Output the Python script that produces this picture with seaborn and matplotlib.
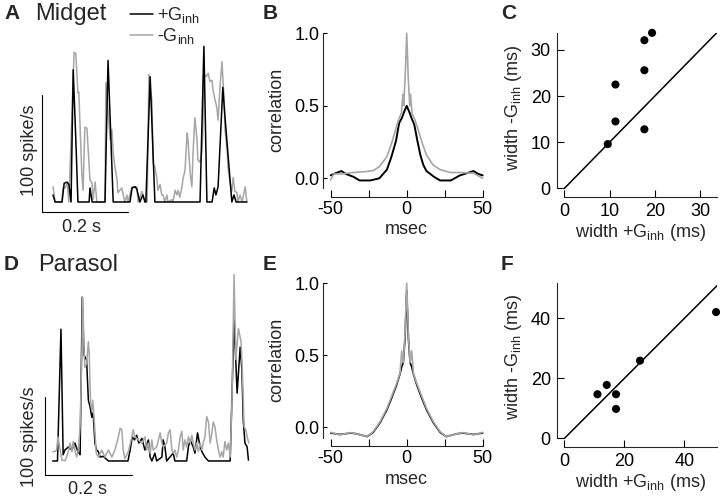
import matplotlib
matplotlib.use('Agg')
import matplotlib.pyplot as plt
import seaborn as sns
from matplotlib.lines import Line2D

sns.set_style('ticks')
plt.rcParams['font.family'] = ['Liberation Sans', 'DejaVu Sans']
plt.rcParams['mathtext.default'] = 'regular'

GRAY = '#a6a6a6'

# ---- A: midget firing rate (time in ms, rate in spikes/s)
midget_plus_t = [0, 5, 21, 26, 33, 37, 42, 47, 54, 58, 84, 86, 91, 121, 128, 140, 179, 184, 191, 195,
                 202, 209, 214, 216, 226, 237, 342, 351, 358, 370, 375, 379, 384, 395, 400, 416, 421, 426, 430, 451]
midget_plus_r = [6, 0, 0, 16, 17, 15, 0, 113, 44, 0, 0, 12, 0, 0, 121, 0, 0, 12, 13, 11,
                 0, 6, 0, 0, 107, 0, 0, 133, 0, 0, 12, 6, 13, 98, 73, 0, 6, 0, 0, 0]
midget_minus_t = [0, 5, 21, 23, 28, 33, 37, 49, 53, 58, 60, 67, 70, 74, 79, 81, 86, 91, 93, 98,
                  102, 121, 123, 133, 137, 140, 144, 149, 151, 160, 167, 172, 174, 184, 195, 198, 207, 214, 219, 223,
                  230, 233, 237, 242, 244, 249, 253, 256, 260, 265, 267, 277, 279, 284, 288, 291, 295, 300, 302, 307,
                  312, 314, 319, 323, 326, 330, 335, 337, 342, 347, 349, 351, 356, 361, 365, 370, 372, 377, 381, 384,
                  388, 393, 398, 400, 405, 407, 412, 416, 419, 423, 428, 430, 435, 440, 447, 451]
midget_minus_r = [13, 0, 0, 12, 12, 16, 0, 128, 127, 93, 94, 25, 10, 64, 63, 50, 19, 16, 2, 17,
                  0, 0, 102, 53, 62, 42, 30, 19, 8, 12, 0, 6, 0, 13, 13, 0, 9, 0, 0, 109,
                  87, 33, 30, 19, 10, 15, 6, 6, 0, 6, 0, 2, 0, 10, 6, 10, 4, 13, 19, 27,
                  59, 53, 25, 13, 44, 72, 53, 36, 34, 44, 68, 110, 107, 110, 103, 104, 96, 87, 81, 70,
                  96, 120, 87, 62, 44, 30, 16, 9, 21, 9, 8, 0, 6, 0, 13, 0]

# ---- D: parasol firing rate
parasol_plus_t = [0, 11, 19, 24, 28, 36, 44, 51, 58, 63, 68, 72, 78, 80, 82, 86, 90, 93, 97, 101,
                  105, 109, 116, 128, 173, 178, 183, 188, 193, 198, 205, 212, 220, 224, 228, 235, 239, 251, 254, 258,
                  262, 277, 281, 308, 312, 316, 323, 327, 333, 339, 343, 350, 358, 408, 417, 424, 431, 435, 438, 442,
                  447, 450]
parasol_plus_r = [0, 0, 169, 8, 14, 18, 14, 23, 12, 8, 210, 136, 129, 103, 78, 69, 56, 62, 23, 14,
                  12, 5, 6, 0, 0, 14, 31, 27, 33, 23, 29, 14, 27, 5, 0, 10, 0, 5, 27, 18,
                  0, 10, 0, 0, 18, 27, 18, 10, 36, 18, 12, 5, 0, 0, 181, 87, 146, 117, 53, 23,
                  18, 1]
parasol_minus_t = [0, 5, 9, 12, 21, 24, 28, 32, 36, 40, 44, 47, 51, 55, 59, 63, 67, 69, 72, 74,
                   78, 82, 84, 87, 90, 92, 96, 100, 105, 113, 120, 128, 136, 143, 151, 155, 159, 162, 166, 174,
                   182, 185, 189, 197, 205, 212, 216, 220, 224, 228, 231, 239, 243, 247, 251, 254, 262, 266, 270, 274,
                   277, 281, 285, 289, 293, 297, 300, 304, 308, 312, 316, 320, 323, 327, 331, 335, 339, 343, 346, 350,
                   354, 358, 362, 366, 369, 373, 377, 381, 385, 389, 392, 396, 400, 404, 408, 412, 417, 421, 427, 433,
                   436, 440, 444, 447, 451]
parasol_minus_r = [12, 12, 14, 31, 1, 1, 0, 5, 12, 23, 12, 25, 14, 5, 14, 44, 138, 210, 142, 120,
                   125, 153, 138, 74, 65, 78, 48, 10, 5, 14, 5, 14, 5, 14, 31, 42, 40, 14, 3, 12,
                   31, 40, 31, 27, 23, 31, 14, 23, 10, 27, 14, 18, 27, 36, 23, 18, 23, 36, 40, 14,
                   10, 14, 5, 14, 31, 38, 14, 27, 18, 31, 23, 33, 23, 14, 23, 12, 23, 14, 23, 31,
                   57, 50, 23, 36, 50, 44, 27, 14, 5, 12, 5, 25, 14, 23, 5, 74, 239, 130, 170, 153,
                   117, 44, 40, 31, 23]

# ---- B: midget correlation
midget_lag_plus = [-50, -48, -43, -40, -35, -31, -24, -18, -13, -10, -7, -5, -3, -2, 0, 2, 3, 5, 7, 9,
                   11, 13, 18, 22, 29, 35, 44, 47, 50]
midget_corr_plus = [0.02, 0.03, 0.05, 0.03, 0.01, -0.015, -0.015, 0.0, 0.06, 0.15, 0.26, 0.38, 0.42, 0.45, 0.5,
                    0.45, 0.42, 0.37, 0.26, 0.16, 0.09, 0.05, 0.01, -0.015, -0.015, 0.02, 0.05, 0.03, 0.02]
midget_lag_minus = [-50, -48, -43, -35, -28, -22, -18, -13, -10, -8, -5.5, -3.5, -2.5, -2, -1, 0, 1, 2, 2.5, 3.5,
                    5.5, 7.7, 10, 13, 17.5, 22, 28.5, 35, 44, 50]
midget_corr_minus = [-0.01, 0.03, 0.03, 0.04, 0.045, 0.053, 0.08, 0.15, 0.24, 0.31, 0.40, 0.45, 0.58, 0.5, 0.7,
                     1.0, 0.7, 0.5, 0.58, 0.45, 0.40, 0.33, 0.25, 0.16, 0.09, 0.06, 0.04, 0.04, 0.035, 0.0]

# ---- E: parasol correlation
parasol_lag = [-50, -44, -37, -33, -26, -22, -17.5, -13, -10, -6.6, -4.4, -3.3, -2.2, -1.1, 0,
               1.1, 2.2, 3.3, 4.4, 6.6, 10, 13, 17.5, 22, 26, 33, 37, 44, 50]
parasol_corr_plus = [-0.04, -0.05, -0.04, -0.045, -0.065, -0.035, 0.032, 0.122, 0.2, 0.295, 0.37, 0.42, 0.45, 0.62,
                     0.95, 0.62, 0.45, 0.42, 0.37, 0.295, 0.2, 0.122, 0.032, -0.035, -0.065, -0.045, -0.04, -0.05,
                     -0.04]
parasol_corr_minus = [-0.035, -0.053, -0.037, -0.046, -0.065, -0.03, 0.039, 0.132, 0.213, 0.306, 0.375, 0.53, 0.45,
                      0.65, 1.0, 0.65, 0.45, 0.53, 0.375, 0.306, 0.213, 0.132, 0.039, -0.03, -0.065, -0.046,
                      -0.037, -0.053, -0.035]

# ---- C / F: correlation widths (ms)
midget_width_plus = [9.6, 11.3, 11.3, 17.7, 17.7, 17.7, 19.4]
midget_width_minus = [9.6, 22.5, 14.5, 12.8, 25.6, 32.1, 33.7]
parasol_width_plus = [11.0, 14.1, 17.2, 17.2, 25.2, 50.6]
parasol_width_minus = [14.7, 17.8, 14.7, 9.8, 25.9, 42.1]

W, H = 720, 499
fig = plt.figure(figsize=(W / 100, H / 100), dpi=100)


def fig_box(x0, y0, x1, y1):
    # pixel box (top-left origin) -> figure fraction rect
    return [x0 / W, 1 - y1 / H, (x1 - x0) / W, (y1 - y0) / H]


def put(x, y, s, **kw):
    fig.text(x / W, 1 - y / H, s, **kw)


def draw_trace(box, tb, rb, tg, rg, xlim, ylim, bar_t, bar_r, gray_on_top):
    ax = fig.add_axes(box)
    order = [(tb, rb, 'black'), (tg, rg, GRAY)]
    if not gray_on_top:
        order = order[::-1]
    for t, r, c in order:
        sns.lineplot(x=t, y=r, ax=ax, color=c, lw=1.1, estimator=None, sort=False)
    ax.set_xlim(xlim)
    ax.set_ylim(ylim)
    ax.axis('off')
    # scale bars: 200 ms, 100 spikes/s
    ax.plot([bar_t, bar_t + 200], [bar_r, bar_r], color='black', lw=0.8, clip_on=False)
    ax.plot([bar_t, bar_t], [bar_r, bar_r + 100], color='black', lw=0.8, clip_on=False)
    return ax


def draw_corr(box, ylim, left_lo, lb, cb, lg, cg, lw_black):
    ax = fig.add_axes(box)
    sns.lineplot(x=lb, y=cb, ax=ax, color='black', lw=lw_black, estimator=None, sort=False, clip_on=False)
    sns.lineplot(x=lg, y=cg, ax=ax, color=GRAY, lw=1.2, estimator=None, sort=False, clip_on=False)
    ax.set_xlim(-50, 50)
    ax.set_ylim(ylim)
    sns.despine(ax=ax)
    ax.spines['left'].set_position(('outward', 8 * 0.72))
    ax.spines['left'].set_bounds(left_lo, 1.0)
    ax.spines['bottom'].set_bounds(-50, 50)
    for sp in ax.spines.values():
        sp.set_linewidth(0.8)
    ax.set_xticks([-50, -25, 0, 25, 50], ['-50', '', '0', '', '50'])
    ax.set_yticks([0, 0.5, 1.0], ['0.0', '0.5', '1.0'])
    ax.tick_params(direction='in', labelsize=13, width=0.8, colors='black')
    ax.tick_params(axis='x', length=5, pad=3.2)
    ax.tick_params(axis='y', length=3, pad=2.2)
    return ax


def draw_width(box, xs, ys, xlim, ylim, xb, yb, ticks):
    ax = fig.add_axes(box)
    ax.plot([0, 60], [0, 60], color='black', lw=1.1)
    sns.scatterplot(x=xs, y=ys, ax=ax, color='black', s=34, edgecolor='none', clip_on=False, zorder=3)
    ax.set_xlim(xlim)
    ax.set_ylim(ylim)
    sns.despine(ax=ax)
    ax.spines['left'].set_bounds(0, yb)
    ax.spines['bottom'].set_bounds(0, xb)
    for sp in ax.spines.values():
        sp.set_linewidth(0.8)
    ax.set_xticks(ticks)
    ax.set_yticks(ticks)
    ax.tick_params(direction='in', labelsize=13, width=0.8, length=5, pad=4.2, colors='black')
    return ax


draw_trace(fig_box(30, 30, 260, 220), midget_plus_t, midget_plus_r, midget_minus_t, midget_minus_r,
           (-53.5, 481.5), (-15.4, 147), -25.6, -8.55, gray_on_top=False)
draw_trace(fig_box(30, 270, 260, 480), parasol_plus_t, parasol_plus_r, parasol_minus_t, parasol_minus_r,
           (-52.2, 476.6), (-24.4, 244.9), -17.7, -17.9, gray_on_top=True)

draw_corr(fig_box(330.7, 33.3, 482.7, 196.7), (-0.127, 1.0), -0.067,
          midget_lag_plus, midget_corr_plus, midget_lag_minus, midget_corr_minus, 1.4)
draw_corr(fig_box(330.7, 283.3, 482.7, 446), (-0.13, 1.0), -0.076,
          parasol_lag, parasol_corr_plus, parasol_lag, parasol_corr_minus, 1.2)

draw_width(fig_box(556.7, 33.3, 716.7, 196.7), midget_width_plus, midget_width_minus,
           (-1.7, 33.7), (-1.8, 33.6), 33.7, 33.6, [0, 10, 20, 30])
draw_width(fig_box(556.7, 283.3, 716.7, 446.7), parasol_width_plus, parasol_width_minus,
           (-2.6, 50.8), (-2.8, 51.7), 50.8, 51.7, [0, 20, 40])

# panel letters and titles
bold = dict(fontsize=15, fontweight='bold', va='top', ha='left')
put(4, 4, 'A', **bold)
put(263, 4, 'B', **bold)
put(501, 4, 'C', **bold)
put(4, 255, 'D', **bold)
put(263, 255, 'E', **bold)
put(501, 255, 'F', **bold)
put(35, 3, 'Midget', fontsize=17, va='top')
put(38, 254, 'Parasol', fontsize=17, va='top')

# legend
fig.add_artist(Line2D([130 / W, 153 / W], [1 - 14 / H, 1 - 14 / H], color='black', lw=1.1))
fig.add_artist(Line2D([130 / W, 153 / W], [1 - 35 / H, 1 - 35 / H], color=GRAY, lw=1.1))
put(157, 20, '+G$_{inh}$', fontsize=13, va='baseline')
put(157, 41, '-G$_{inh}$', fontsize=13, va='baseline')

# scale bar labels
put(30, 150, '100 spike/s', fontsize=13, rotation=90, ha='center', va='center')
put(82, 228, '0.2 s', fontsize=13, ha='center', va='center')
put(30, 437, '100 spikes/s', fontsize=13, rotation=90, ha='center', va='center')
put(88, 490, '0.2 s', fontsize=13, ha='center', va='center')

# axis labels
put(277, 110, 'correlation', fontsize=13, rotation=90, ha='center', va='center')
put(277, 360, 'correlation', fontsize=13, rotation=90, ha='center', va='center')
put(406, 229, 'msec', fontsize=13, ha='center', va='center')
put(406, 480, 'msec', fontsize=13, ha='center', va='center')
put(513, 108, 'width -G$_{inh}$ (ms)', fontsize=13, rotation=90, ha='center', va='center')
put(513, 357, 'width -G$_{inh}$ (ms)', fontsize=13, rotation=90, ha='center', va='center')
put(640, 237, 'width +G$_{inh}$ (ms)', fontsize=13, ha='center', va='baseline')
put(640, 487, 'width +G$_{inh}$ (ms)', fontsize=13, ha='center', va='baseline')

fig.savefig('out.png', dpi=100)
